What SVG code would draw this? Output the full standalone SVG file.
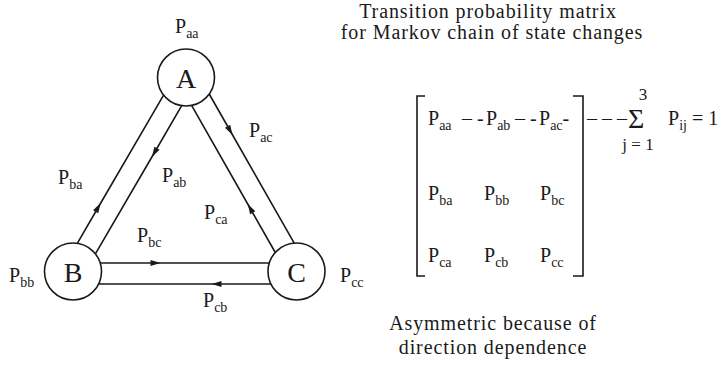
<svg xmlns="http://www.w3.org/2000/svg" width="720" height="368" viewBox="0 0 720 368">
<style>
text{font-family:"Liberation Serif","Times New Roman",serif;fill:#1a1a1a}
.p{font-size:20px}
.s{font-size:14px}
.node{font-size:28px;text-anchor:middle}
.t{font-size:20px;text-anchor:middle;letter-spacing:0.9px}
.c{fill:#fff;stroke:#1a1a1a;stroke-width:1.6}
.ln{fill:none;stroke:#1a1a1a;stroke-width:1.6}
.br{fill:none;stroke:#1a1a1a;stroke-width:1.6}
</style>
<defs>
<marker id="ah" viewBox="-11 -5 13 10" refX="-4.5" refY="0" markerWidth="13" markerHeight="10" markerUnits="userSpaceOnUse" orient="auto">
<path d="M0,0 L-10,-3 L-10,3 Z" fill="#1a1a1a"/>
</marker>
</defs>
<g id="connectors">
<path class="ln" marker-mid="url(#ah)" d="M77.3,243.3 L98.4,207 L163.6,95.1"/>
<path class="ln" marker-mid="url(#ah)" d="M181.7,105.7 L154.2,153 L95.4,253.9"/>
<path class="ln" marker-mid="url(#ah)" d="M209.2,94 L230.3,131 L294.2,243.2"/>
<path class="ln" marker-mid="url(#ah)" d="M275.3,252.5 L250,208 L191.6,105.4"/>
<path class="ln" marker-mid="url(#ah)" d="M100,263 L156,263 L269.5,263"/>
<path class="ln" marker-mid="url(#ah)" d="M271,284 L216,284 L99,284"/>
</g>
<g id="node-A">
<circle class="c" cx="186" cy="77.5" r="28.5"/>
<text class="node" x="186" y="87.5">A</text>
</g>
<g id="node-B">
<circle class="c" cx="73" cy="271.5" r="28.5"/>
<text class="node" x="73" y="281.5">B</text>
</g>
<g id="node-C">
<circle class="c" cx="296.5" cy="271.5" r="28.5"/>
<text class="node" x="296.5" y="281.5">C</text>
</g>
<g id="edge-labels">
<text class="p" x="175" y="33">P<tspan class="s" dy="5">aa</tspan></text>
<text class="p" x="249" y="137">P<tspan class="s" dy="5">ac</tspan></text>
<text class="p" x="58" y="184">P<tspan class="s" dy="5">ba</tspan></text>
<text class="p" x="162" y="182">P<tspan class="s" dy="5">ab</tspan></text>
<text class="p" x="204" y="219">P<tspan class="s" dy="5">ca</tspan></text>
<text class="p" x="137" y="242">P<tspan class="s" dy="5">bc</tspan></text>
<text class="p" x="9" y="282">P<tspan class="s" dy="5">bb</tspan></text>
<text class="p" x="340" y="282">P<tspan class="s" dy="5">cc</tspan></text>
<text class="p" x="203" y="307">P<tspan class="s" dy="5">cb</tspan></text>
</g>
<g id="title">
<text class="t" x="488" y="18">Transition probability matrix</text>
<text class="t" x="492" y="39">for Markov chain of state changes</text>
</g>
<g id="matrix">
<path class="br" d="M425,96 L417,96 L417,276 L425,276"/>
<path class="br" d="M573,96 L583,96 L583,276 L573,276"/>
<text class="p" y="125"><tspan x="428">P</tspan><tspan class="s" dy="5">aa</tspan><tspan x="462" dy="-5">– -</tspan><tspan x="486">P</tspan><tspan class="s" dy="5">ab</tspan><tspan x="515" dy="-5">– -</tspan><tspan x="539">P</tspan><tspan class="s" dy="5">ac</tspan><tspan dy="-5">-</tspan></text>
<text class="p" y="200"><tspan x="428">P</tspan><tspan class="s" dy="5">ba</tspan><tspan x="484" dy="-5">P</tspan><tspan class="s" dy="5">bb</tspan><tspan x="540" dy="-5">P</tspan><tspan class="s" dy="5">bc</tspan></text>
<text class="p" y="262"><tspan x="428">P</tspan><tspan class="s" dy="5">ca</tspan><tspan x="484" dy="-5">P</tspan><tspan class="s" dy="5">cb</tspan><tspan x="540" dy="-5">P</tspan><tspan class="s" dy="5">cc</tspan></text>
<text class="p" x="587" y="125">– – –</text>
<text x="628" y="128" style="font-size:28px">Σ</text>
<text x="643" y="100" style="font-size:17px;text-anchor:middle">3</text>
<text x="638" y="150" style="font-size:17px;text-anchor:middle">j = 1</text>
<text class="p" x="668" y="125">P<tspan class="s" dy="5">ij</tspan><tspan dy="-5"> = 1</tspan></text>
</g>
<g id="note">
<text class="t" x="493" y="330">Asymmetric because of</text>
<text class="t" x="493" y="354">direction dependence</text>
</g>
</svg>
